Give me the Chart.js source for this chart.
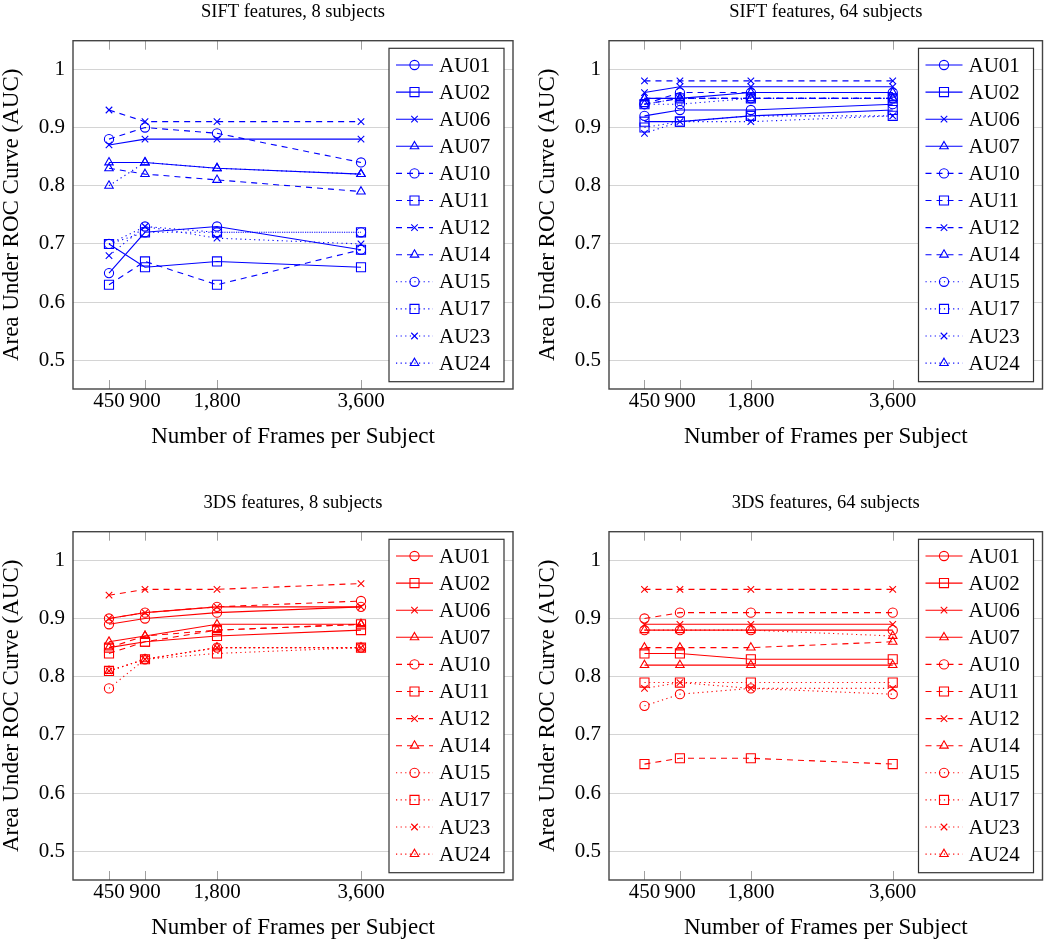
<!DOCTYPE html>
<html>
<head>
<meta charset="utf-8">
<title>AUC vs frames per subject</title>
<script src="https://cdn.jsdelivr.net/npm/chart.js@4.4.1/dist/chart.umd.min.js"></script>
<style>
  html, body { margin: 0; padding: 0; background: #fff; }
  body { width: 1050px; height: 942px; position: relative; overflow: hidden; }
  .panel { position: absolute; }
</style>
</head>
<body>
<div class="panel" style="left:0;top:0;width:525px;height:450px"><canvas id="sift8"></canvas></div>
<div class="panel" style="left:536px;top:0;width:514px;height:450px"><canvas id="sift64"></canvas></div>
<div class="panel" style="left:0;top:491px;width:525px;height:450px"><canvas id="tds8"></canvas></div>
<div class="panel" style="left:536px;top:491px;width:514px;height:450px"><canvas id="tds64"></canvas></div>

<script>
// ---- data ----
const framesPerSubject = [450, 900, 1800, 3600];
const xTickLabels = ['450', '900', '1,800', '3,600'];
const yTicks = [0.5, 0.6, 0.7, 0.8, 0.9, 1];
const yTickLabels = ['0.5', '0.6', '0.7', '0.8', '0.9', '1'];

const actionUnits = ['AU01', 'AU02', 'AU06', 'AU07', 'AU10', 'AU11',
                     'AU12', 'AU14', 'AU15', 'AU17', 'AU23', 'AU24'];

// one row per action unit (same order as actionUnits), one value per frame count
const siftAuc8 = [
    [0.65, 0.72, 0.73, 0.69],
    [0.70, 0.66, 0.67, 0.66],
    [0.87, 0.88, 0.88, 0.88],
    [0.84, 0.84, 0.83, 0.82],
    [0.88, 0.90, 0.89, 0.84],
    [0.63, 0.67, 0.63, 0.69],
    [0.93, 0.91, 0.91, 0.91],
    [0.83, 0.82, 0.81, 0.79],
    [0.70, 0.73, 0.72, 0.72],
    [0.70, 0.72, 0.72, 0.72],
    [0.68, 0.73, 0.71, 0.70],
    [0.80, 0.84, 0.83, 0.82]
];

const siftAuc64 = [
    [0.92, 0.93, 0.93, 0.94],
    [0.91, 0.91, 0.92, 0.93],
    [0.96, 0.97, 0.97, 0.97],
    [0.95, 0.95, 0.96, 0.96],
    [0.94, 0.96, 0.96, 0.96],
    [0.94, 0.95, 0.95, 0.95],
    [0.98, 0.98, 0.98, 0.98],
    [0.95, 0.95, 0.95, 0.95],
    [0.94, 0.94, 0.95, 0.95],
    [0.90, 0.91, 0.92, 0.92],
    [0.89, 0.91, 0.91, 0.92],
    [0.94, 0.95, 0.95, 0.95]
];

const tdsAuc8 = [
    [0.89, 0.90, 0.91, 0.92],
    [0.85, 0.86, 0.87, 0.88],
    [0.90, 0.91, 0.92, 0.92],
    [0.86, 0.87, 0.89, 0.89],
    [0.90, 0.91, 0.92, 0.93],
    [0.84, 0.86, 0.88, 0.89],
    [0.94, 0.95, 0.95, 0.96],
    [0.85, 0.87, 0.88, 0.89],
    [0.78, 0.83, 0.85, 0.85],
    [0.81, 0.83, 0.84, 0.85],
    [0.81, 0.83, 0.85, 0.85],
    [0.81, 0.83, 0.85, 0.85]
];

const tdsAuc64 = [
    [0.88, 0.88, 0.88, 0.88],
    [0.84, 0.84, 0.83, 0.83],
    [0.89, 0.89, 0.89, 0.89],
    [0.82, 0.82, 0.82, 0.82],
    [0.90, 0.91, 0.91, 0.91],
    [0.65, 0.66, 0.66, 0.65],
    [0.95, 0.95, 0.95, 0.95],
    [0.85, 0.85, 0.85, 0.86],
    [0.75, 0.77, 0.78, 0.77],
    [0.79, 0.79, 0.79, 0.79],
    [0.78, 0.79, 0.78, 0.78],
    [0.88, 0.88, 0.88, 0.87]
];

// ---- styles ----
Chart.defaults.font.family = '"Liberation Serif", "Times New Roman", serif';
Chart.defaults.color = '#000';

const DASHES = [[], [6, 5], [1.2, 3.4]];          // solid, dashed, dotted (4 AUs each)
const MARKS = [
    { style: 'circle',   radius: 4.6 },
    { style: 'rect',     radius: 6.4 },
    { style: 'crossRot', radius: 4.6 },
    { style: 'triangle', radius: 4.9 }
];

// plot box + inward x ticks
const framePlugin = {
    id: 'frame',
    beforeDatasetsDraw(chart) {
        const { ctx, chartArea: a, scales: { x } } = chart;
        ctx.save();
        ctx.strokeStyle = '#a0a0a0';
        ctx.lineWidth = 1;
        framesPerSubject.forEach(v => {
            const px = Math.round(x.getPixelForValue(v)) + 0.5;
            ctx.beginPath();
            ctx.moveTo(px, a.bottom); ctx.lineTo(px, a.bottom - 9);
            ctx.moveTo(px, a.top);    ctx.lineTo(px, a.top + 9);
            ctx.stroke();
        });
        ctx.restore();
    },
    afterDatasetsDraw(chart) {
        const { ctx, chartArea: a } = chart;
        ctx.save();
        ctx.strokeStyle = '#444';
        ctx.lineWidth = 1.4;
        ctx.strokeRect(a.left, a.top, a.right - a.left, a.bottom - a.top);
        ctx.restore();
    }
};

// legend box inside the plot, top right
const auLegend = {
    id: 'auLegend',
    afterDraw(chart) {
        const { ctx, chartArea: a } = chart;
        const w = 115, h = 333.4, rowH = 27.1;
        const left = a.right - 9 - w, top = a.top + 7.6;
        ctx.save();
        ctx.fillStyle = '#fff';
        ctx.fillRect(left, top, w, h);
        ctx.strokeStyle = '#333';
        ctx.lineWidth = 1.2;
        ctx.strokeRect(left, top, w, h);

        chart.data.datasets.forEach((ds, i) => {
            const cy = top + 16.7 + rowH * i;
            ctx.save();
            ctx.strokeStyle = ds.borderColor;
            ctx.lineWidth = ds.borderWidth;
            ctx.setLineDash(ds.borderDash);
            ctx.beginPath();
            ctx.moveTo(left + 7, cy);
            ctx.lineTo(left + 44, cy);
            ctx.stroke();
            ctx.setLineDash([]);
            ctx.fillStyle = 'rgba(0,0,0,0)';
            if (Chart.helpers && Chart.helpers.drawPoint) {
                Chart.helpers.drawPoint(ctx, {
                    pointStyle: ds.pointStyle,
                    radius: ds.pointRadius,
                    borderWidth: ds.pointBorderWidth,
                    rotation: 0
                }, left + 25.5, cy);
            }
            ctx.restore();
            ctx.fillStyle = '#000';
            ctx.font = '21px "Liberation Serif", serif';
            ctx.textBaseline = 'middle';
            ctx.fillText(ds.label, left + 50, cy + 1);
        });
        ctx.restore();
    }
};

const createChart = (id, title, rows, color, padRight) => {
    const datasets = rows.map((vals, i) => ({
        label: actionUnits[i],
        data: framesPerSubject.map((f, j) => ({ x: f, y: vals[j] })),
        borderColor: color,
        backgroundColor: 'rgba(0,0,0,0)',
        borderWidth: 1.1,
        borderDash: DASHES[Math.floor(i / 4)],
        pointStyle: MARKS[i % 4].style,
        pointRadius: MARKS[i % 4].radius,
        pointBorderWidth: 1.1,
        pointBorderColor: color,
        pointBackgroundColor: 'rgba(0,0,0,0)',
        tension: 0,
        fill: false
    }));

    return new Chart(document.getElementById(id), {
        type: 'line',
        data: { datasets },
        plugins: [framePlugin, auLegend],
        options: {
            responsive: true,
            maintainAspectRatio: false,
            animation: false,
            layout: { padding: { left: 0, right: padRight, top: 0, bottom: 0 } },
            plugins: {
                legend: { display: false },
                tooltip: { enabled: false },
                title: {
                    display: true,
                    fullSize: false,
                    text: title,
                    color: '#000',
                    font: { size: 18.5, weight: 'normal', lineHeight: 1.2 },
                    padding: { top: 1, bottom: 17.5 }
                }
            },
            scales: {
                x: {
                    type: 'linear',
                    min: 0,
                    max: 5500,
                    afterBuildTicks: s => { s.ticks = framesPerSubject.map(v => ({ value: v })); },
                    afterFit: s => { s.height = 61; },
                    grid: { display: false },
                    border: { display: false },
                    ticks: {
                        padding: -8,
                        autoSkip: false,
                        maxRotation: 0,
                        font: { size: 21 },
                        callback: (v, i) => xTickLabels[i]
                    },
                    title: {
                        display: true,
                        text: 'Number of Frames per Subject',
                        font: { size: 23, lineHeight: 1 },
                        padding: { top: 0, bottom: 1.5 }
                    }
                },
                y: {
                    min: 0.451,
                    max: 1.049,
                    afterBuildTicks: s => { s.ticks = yTicks.map(v => ({ value: v })); },
                    afterFit: s => { s.width = 73; },
                    grid: { color: '#d4d4d4', lineWidth: 1, drawTicks: false },
                    border: { display: false },
                    ticks: {
                        padding: 8,
                        font: { size: 21 },
                        callback: (v, i) => yTickLabels[i]
                    },
                    title: {
                        display: true,
                        text: 'Area Under ROC Curve (AUC)',
                        font: { size: 23, lineHeight: 1 },
                        padding: { top: 0, bottom: 0 }
                    }
                }
            }
        }
    });
};

createChart('sift8',  'SIFT features, 8 subjects',  siftAuc8,  '#0000ff', 12);
createChart('sift64', 'SIFT features, 64 subjects', siftAuc64, '#0000ff', 2);
createChart('tds8',   '3DS features, 8 subjects',   tdsAuc8,   '#ff0000', 12);
createChart('tds64',  '3DS features, 64 subjects',  tdsAuc64,  '#ff0000', 2);
</script>
</body>
</html>
